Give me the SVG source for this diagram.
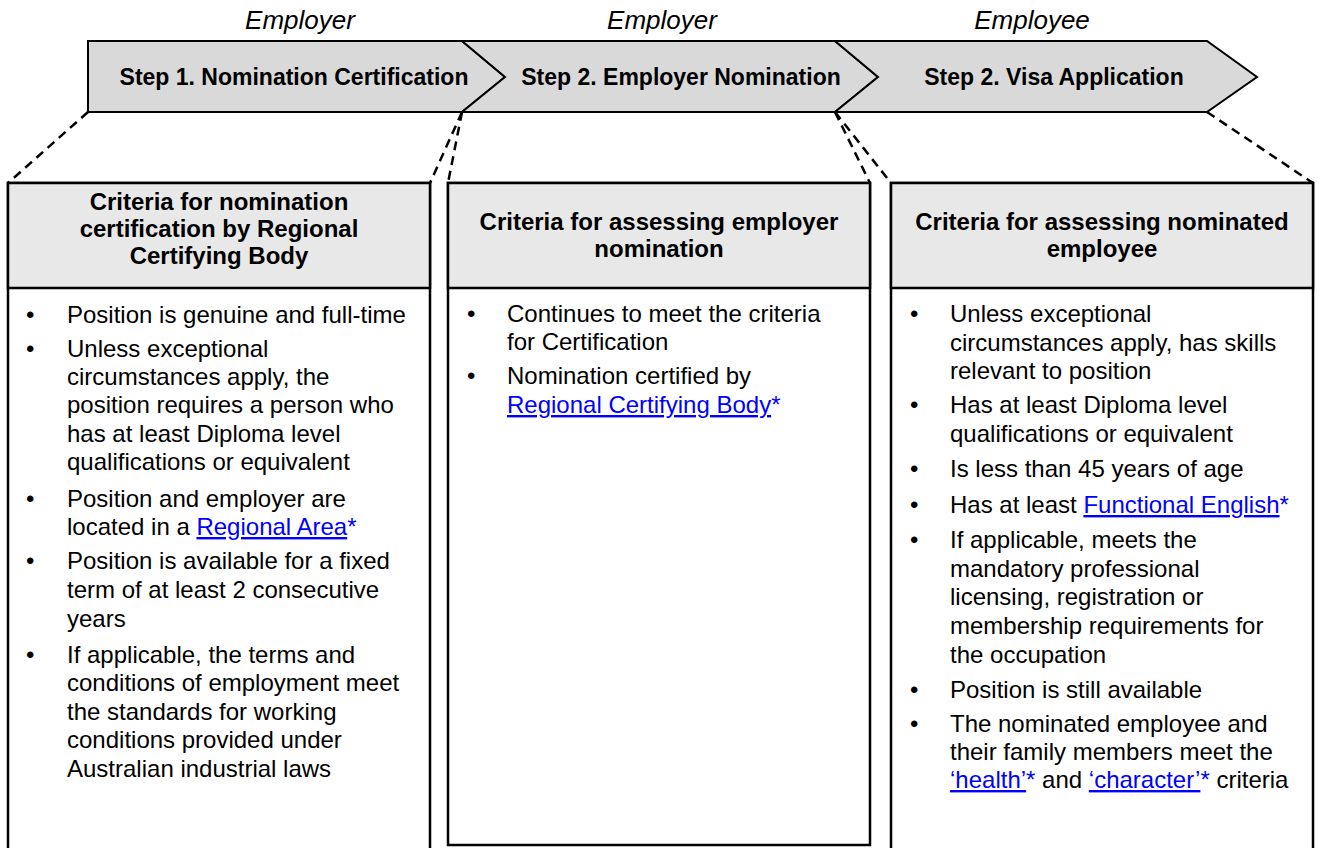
<svg xmlns="http://www.w3.org/2000/svg" width="1319" height="848" viewBox="0 0 1319 848">
<style>
.chev{fill:#d9d9d9;stroke:#000;stroke-width:2;stroke-linejoin:miter}
.role{font-family:"Liberation Sans",Arial,sans-serif;font-style:italic;font-size:26px;fill:#000;text-anchor:middle}
.step{font-family:"Liberation Sans",Arial,sans-serif;font-weight:bold;font-size:23px;fill:#000;text-anchor:middle}
.box{fill:#fff;stroke:#000;stroke-width:2.5}
.hdr{fill:#e8e8e8;stroke:#000;stroke-width:2.5}
.ht{font-family:"Liberation Sans",Arial,sans-serif;font-weight:bold;font-size:24px;fill:#000;text-anchor:middle}
.bt{font-family:"Liberation Sans",Arial,sans-serif;font-size:24px;fill:#000}
.lk{fill:#0000ff;text-decoration:underline}
.ast{fill:#0000ff}
.dash{fill:none;stroke:#000;stroke-width:2.5;stroke-dasharray:9 6}
</style>
<g id="roles">
<text class="role" x="300" y="29">Employer</text>
<text class="role" x="662" y="29">Employer</text>
<text class="role" x="1032" y="29">Employee</text>
</g>
<g id="step1">
<polygon class="chev" points="88,41 462,41 505,77 462,112 88,112"/>
<text class="step" x="294" y="85">Step 1. Nomination Certification</text>
</g>
<g id="step2">
<polygon class="chev" points="462,41 835,41 878,77 835,112 462,112 505,77"/>
<text class="step" x="681" y="85">Step 2. Employer Nomination</text>
</g>
<g id="step3">
<polygon class="chev" points="835,41 1207,41 1257,77 1207,112 835,112 878,77"/>
<text class="step" x="1054" y="85">Step 2. Visa Application</text>
</g>
<g id="connectors">
<line class="dash" x1="88" y1="112" x2="8" y2="183"/>
<line class="dash" x1="462" y1="112" x2="430" y2="183"/>
<line class="dash" x1="462" y1="112" x2="448" y2="183"/>
<line class="dash" x1="835" y1="112" x2="870" y2="183"/>
<line class="dash" x1="835" y1="112" x2="891" y2="183"/>
<line class="dash" x1="1207" y1="112" x2="1313" y2="183"/>
</g>
<g id="box1">
<rect class="box" x="8" y="183" width="422" height="680"/>
<rect class="hdr" x="8" y="183" width="422" height="105"/>
<text class="ht" x="219" y="210">Criteria for nomination</text>
<text class="ht" x="219" y="237">certification by Regional</text>
<text class="ht" x="219" y="264">Certifying Body</text>
<g class="bt">
<text x="26" y="323">•</text>
<text x="67" y="323">Position is genuine and full-time</text>
<text x="26" y="357">•</text>
<text x="67" y="357">Unless exceptional</text>
<text x="67" y="385">circumstances apply, the</text>
<text x="67" y="413">position requires a person who</text>
<text x="67" y="442">has at least Diploma level</text>
<text x="67" y="470">qualifications or equivalent</text>
<text x="26" y="507">•</text>
<text x="67" y="507">Position and employer are</text>
<text x="67" y="535">located in a <tspan class="lk">Regional Area</tspan><tspan class="ast">*</tspan></text>
<text x="26" y="569">•</text>
<text x="67" y="569">Position is available for a fixed</text>
<text x="67" y="598">term of at least 2 consecutive</text>
<text x="67" y="627">years</text>
<text x="26" y="663">•</text>
<text x="67" y="663">If applicable, the terms and</text>
<text x="67" y="691">conditions of employment meet</text>
<text x="67" y="720">the standards for working</text>
<text x="67" y="748">conditions provided under</text>
<text x="67" y="777">Australian industrial laws</text>
</g>
</g>
<g id="box2">
<rect class="box" x="448" y="183" width="422" height="662"/>
<rect class="hdr" x="448" y="183" width="422" height="105"/>
<text class="ht" x="659" y="230">Criteria for assessing employer</text>
<text class="ht" x="659" y="257">nomination</text>
<g class="bt">
<text x="467" y="322">•</text>
<text x="507" y="322">Continues to meet the criteria</text>
<text x="507" y="350">for Certification</text>
<text x="467" y="384">•</text>
<text x="507" y="384">Nomination certified by</text>
<text x="507" y="413"><tspan class="lk">Regional Certifying Body</tspan><tspan class="ast">*</tspan></text>
</g>
</g>
<g id="box3">
<rect class="box" x="891" y="183" width="422" height="680"/>
<rect class="hdr" x="891" y="183" width="422" height="105"/>
<text class="ht" x="1102" y="230">Criteria for assessing nominated</text>
<text class="ht" x="1102" y="257">employee</text>
<g class="bt">
<text x="910" y="322">•</text>
<text x="950" y="322">Unless exceptional</text>
<text x="950" y="351">circumstances apply, has skills</text>
<text x="950" y="379">relevant to position</text>
<text x="910" y="413">•</text>
<text x="950" y="413">Has at least Diploma level</text>
<text x="950" y="442">qualifications or equivalent</text>
<text x="910" y="477">•</text>
<text x="950" y="477">Is less than 45 years of age</text>
<text x="910" y="513">•</text>
<text x="950" y="513">Has at least <tspan class="lk">Functional English</tspan><tspan class="ast">*</tspan></text>
<text x="910" y="548">•</text>
<text x="950" y="548">If applicable, meets the</text>
<text x="950" y="577">mandatory professional</text>
<text x="950" y="605">licensing, registration or</text>
<text x="950" y="634">membership requirements for</text>
<text x="950" y="663">the occupation</text>
<text x="910" y="698">•</text>
<text x="950" y="698">Position is still available</text>
<text x="910" y="732">•</text>
<text x="950" y="732">The nominated employee and</text>
<text x="950" y="760">their family members meet the</text>
<text x="950" y="788"><tspan class="lk">‘health’</tspan><tspan class="ast">*</tspan> and <tspan class="lk">‘character’</tspan><tspan class="ast">*</tspan> criteria</text>
</g>
</g>
</svg>
